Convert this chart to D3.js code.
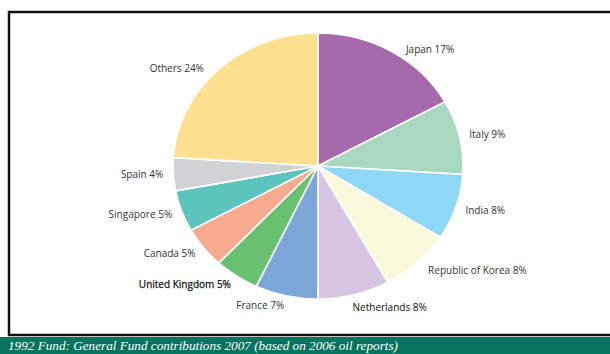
<!DOCTYPE html>
<html><head><meta charset="utf-8">
<script src="https://cdn.jsdelivr.net/npm/d3@7"></script>
<style>html,body{margin:0;padding:0;background:#fff;overflow:hidden}</style>
</head><body>
<svg id="c" width="610" height="354"></svg>
<script>
const categories = ["Japan","Italy","India","Republic of Korea","Netherlands","France","United Kingdom","Canada","Singapore","Spain","Others"];
const shares = [17,9,8,8,8,7,5,5,5,4,24];
const colors = ["#a46aab","#a8d8c1","#8fd7f6","#fbf9dc","#d8c5e1","#7da6d8","#68c070","#f6ab8e","#5bc4bd","#d1d2d4","#fde08f"];
const caption = "1992 Fund: General Fund contributions 2007 (based on 2006 oil reports)";

const svg = d3.select("#c");
// frame
svg.append("rect").attr("x",9).attr("y",12).attr("width",640).attr("height",323)
  .attr("fill","#fff").attr("stroke","#111").attr("stroke-width",2.5);
// caption band
svg.append("rect").attr("x",0).attr("y",337).attr("width",610).attr("height",17).attr("fill","#05745f");
svg.append("text").attr("x",8).attr("y",350).text(caption)
  .attr("fill","#fff").attr("font-family","'Liberation Serif','DejaVu Serif',serif")
  .attr("font-style","italic").attr("font-size",12)
  .attr("textLength",390).attr("lengthAdjust","spacingAndGlyphs");

const cx=318, cy=166, rx=145, ry=133;
const data = categories.map((c,i)=>({name:c, value:shares[i], color:colors[i]}));
const pie = d3.pie().value(d=>d.value).sort(null);
const arcs = pie(data);
const arc = d3.arc().innerRadius(0).outerRadius(1);

const g = svg.append("g").attr("transform",`translate(${cx},${cy}) scale(${rx},${ry})`);
g.selectAll("path").data(arcs).join("path")
  .attr("d",arc).attr("fill",d=>d.data.color)
  .attr("stroke","#fff").attr("stroke-width",1.6).attr("vector-effect","non-scaling-stroke");

const nudge = {"Japan":[9,7],"Others":[-8,7],"Republic of Korea":[4,0],"Netherlands":[-4,3]};
const dr = 10;
svg.append("g").selectAll("text").data(arcs).join("text")
  .each(function(d){
    const a=(d.startAngle+d.endAngle)/2;
    const s=Math.sin(a), c=Math.cos(a);
    let x=cx+(rx+dr)*s, y=cy-(ry+dr)*c;
    const n=nudge[d.data.name]||[0,0];
    x+=n[0]; y+=n[1];
    d3.select(this).attr("x",x).attr("y",y)
      .attr("text-anchor", s>0.1?"start":(s<-0.1?"end":"middle"));
  })
  .attr("dy","0.35em")
  .attr("font-family","'Open Sans',sans-serif").attr("font-size",10)
  .attr("fill",d=>(d.data.name==="United Kingdom"||d.data.name==="Netherlands")?"#111":"#333")
  .attr("stroke",d=>d.data.name==="United Kingdom"?"#111":"none")
  .attr("stroke-width",0.25)
  .text(d=>`${d.data.name} ${d.data.value}%`);
</script>
</body></html>
